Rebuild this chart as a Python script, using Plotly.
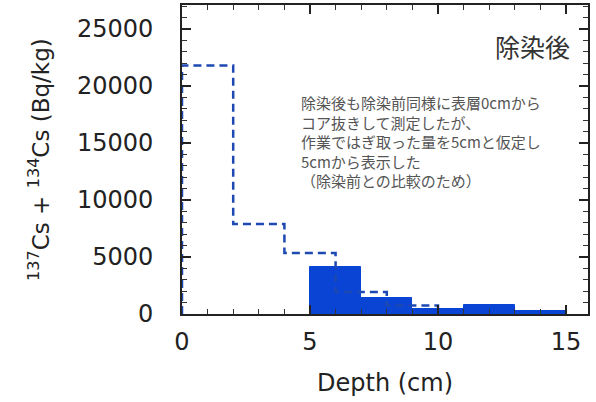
import plotly.graph_objects as go

# Before decontamination (dashed step): layer edges (cm) and activity (Bq/kg)
before_edges = [0, 2, 4, 6, 8, 10]
before_values = [21800, 7900, 5350, 1930, 750]

# After decontamination (filled bars): layer edges (cm) and activity (Bq/kg)
after_edges = [5, 7, 9, 11, 13, 15]
after_values = [4120, 1430, 440, 790, 290]

title_text = "除染後"
note_lines = [
    "除染後も除染前同様に表層0cmから",
    "コア抜きして測定したが、",
    "作業ではぎ取った量を5cmと仮定し",
    "5cmから表示した",
    "（除染前との比較のため）",
]
x_title = "Depth (cm)"
y_title = "<sup>137</sup>Cs + <sup>134</sup>Cs (Bq/kg)"

# Build step path for "before"
sx, sy = [before_edges[0]], [0]
for i, v in enumerate(before_values):
    sx += [before_edges[i], before_edges[i + 1]]
    sy += [v, v]
sx.append(before_edges[-1])
sy.append(0)

bar_x = [(after_edges[i] + after_edges[i + 1]) / 2 for i in range(len(after_values))]
bar_w = [after_edges[i + 1] - after_edges[i] for i in range(len(after_values))]

fig = go.Figure()
fig.add_trace(go.Scatter(
    x=sx, y=sy, mode="lines",
    line=dict(color="rgb(30,72,178)", width=2.5, dash="8px,5px"),
    hoverinfo="skip", showlegend=False,
))
fig.add_trace(go.Bar(
    x=bar_x, y=after_values, width=bar_w,
    marker=dict(color="rgb(10,68,212)", line=dict(color="rgb(10,68,212)", width=1)),
    showlegend=False,
))

axis_font = dict(family="DejaVu Sans", size=24, color="#222")
fig.update_xaxes(
    range=[0, 15.86], tick0=0, dtick=5, ticks="inside", ticklen=9, tickwidth=1.5,
    tickcolor="#222", mirror="ticks", showline=True, linecolor="#222", linewidth=1.6,
    showgrid=False, zeroline=False, tickfont=axis_font, ticklabelstandoff=5,
    automargin=False,
    minor=dict(dtick=1, ticks="inside", ticklen=5, tickwidth=1.3, tickcolor="#333"),
)
fig.update_yaxes(
    range=[0, 27100], tick0=0, dtick=5000, ticks="inside", ticklen=9, tickwidth=1.5,
    tickcolor="#222", mirror="ticks", showline=True, linecolor="#222", linewidth=1.6,
    showgrid=False, zeroline=False, tickfont=axis_font, ticklabelstandoff=22,
    tickformat="d", automargin=False,
    minor=dict(dtick=1000, ticks="inside", ticklen=5, tickwidth=1.3, tickcolor="#333"),
)

fig.add_annotation(
    text=title_text, xref="x", yref="paper", x=15.25, y=(314 - 46) / 309,
    xanchor="right", yanchor="middle", showarrow=False,
    font=dict(family="Noto Sans CJK JP", size=25, color="#333"),
)
fig.add_annotation(
    text="<br>".join(note_lines), xref="x", yref="paper", x=4.58, y=(314 - 90) / 309,
    xanchor="left", yanchor="top", align="left", showarrow=False,
    font=dict(family="Noto Sans CJK JP", size=15, color="#555"),
)
fig.add_annotation(
    text=x_title, xref="paper", yref="paper", x=0.5, y=(314 - 383) / 309,
    xanchor="center", yanchor="middle", showarrow=False,
    font=dict(family="DejaVu Sans", size=24, color="#222"),
)
fig.add_annotation(
    text=y_title, xref="paper", yref="paper", x=(39 - 182) / 406, y=(314 - 160) / 309,
    xanchor="center", yanchor="middle", textangle=-90, showarrow=False,
    font=dict(family="DejaVu Sans", size=23, color="#222"),
)

fig.update_layout(
    width=596, height=402,
    margin=dict(l=182, r=8, t=5, b=88),
    plot_bgcolor="white", paper_bgcolor="white",
    barmode="overlay", bargap=0,
)

fig.write_html(
    "out.html",
    config={"displayModeBar": False},
    post_script="document.body.style.margin='0px';document.body.style.overflow='hidden';",
)
